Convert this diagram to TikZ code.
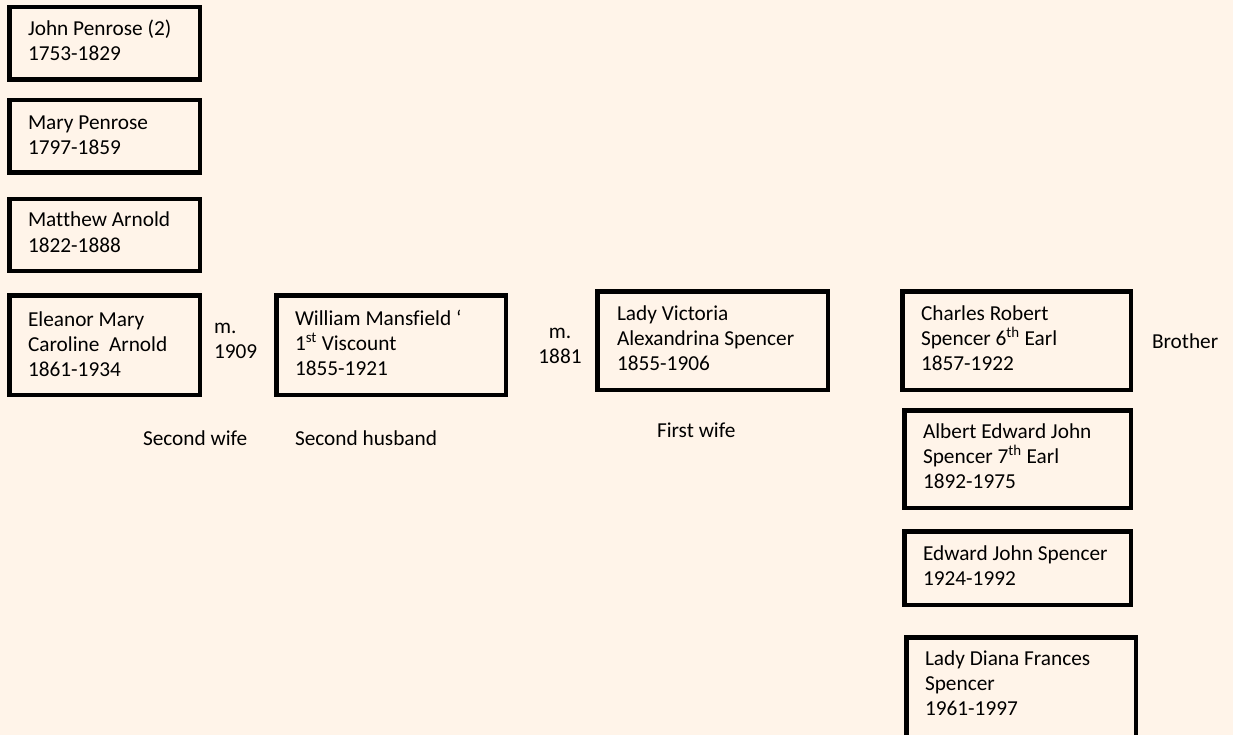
\documentclass[tikz,border=0pt]{standalone}
\usepackage{fontspec}
\setmainfont{Carlito}[Ligatures=NoCommon]
\definecolor{bgpeach}{RGB}{255,244,233}
\tikzset{
  pbox/.style={draw=black, line width=4.5pt, inner sep=0pt, outer sep=0pt},
  ptext/.style={inner sep=0pt, outer sep=0pt, align=left, font=\fontsize{21.3}{25}\selectfont},
  plabel/.style={inner sep=0pt, outer sep=0pt, font=\fontsize{21.3}{25}\selectfont}
}
% name, x1, y1, x2, y2 (outer edges), text x, baseline y of last line, text
\newcommand\personbox[9]{%
  \node[pbox, anchor=north west, minimum width={(#4)-(#2)-4.5}, minimum height={(#5)-(#3)-4.5}]
    (#1) at ({#2+2.25},{#3+2.25}) {};
  \node[ptext, anchor=base west] (#1t) at (#7,#8) {#9};
}
\begin{document}
\begin{tikzpicture}[x=1pt,y=-1pt]
\fill[bgpeach] (0,0) rectangle (1233,735);
\useasboundingbox (0,0) rectangle (1233,735);
\begin{scope}
\clip (0,0) rectangle (1233,735);
\personbox{jp}{7}{5}{202}{82}{}{28}{61}{John Penrose (2)\\1753-1829}
\personbox{mp}{7}{98}{202}{175}{}{28}{155}{Mary Penrose\\1797-1859}
\personbox{ma}{7}{197}{202}{273}{}{28}{252}{Matthew Arnold\\1822-1888}
\personbox{el}{7}{293}{202}{397}{}{28}{376}{Eleanor Mary\\Caroline\ \ Arnold\\1861-1934}
\personbox{wm}{274}{293}{508}{397}{}{295}{375}{William Mansfield ‘\\1\textsuperscript{st} Viscount\\1855-1921}
\personbox{lv}{595}{289}{830}{392}{}{617}{370}{Lady Victoria\\Alexandrina Spencer\\1855-1906}
\personbox{cs}{900}{289}{1133}{392}{}{921}{370}{Charles Robert\\Spencer 6\textsuperscript{th} Earl\\1857-1922}
\personbox{ae}{902}{408}{1133}{510}{}{923}{488}{Albert Edward John\\Spencer 7\textsuperscript{th} Earl\\1892-1975}
\personbox{ej}{902}{529}{1133}{607}{}{923}{585}{Edward John Spencer\\1924-1992}
\personbox{di}{904}{635}{1138}{739}{}{925}{715}{Lady Diana Frances\\Spencer\\1961-1997}
\end{scope}
\node[ptext, anchor=base west] (m1) at (214,358) {m.\\1909};
\node[ptext, anchor=base, align=center] (m2) at (560,363) {m.\\1881};
\node[plabel, anchor=base west] (sw) at (143,445) {Second wife};
\node[plabel, anchor=base west] (sh) at (295,445) {Second husband};
\node[plabel, anchor=base west] (fw) at (657,437) {First wife};
\node[plabel, anchor=base west] (br) at (1152,348) {Brother};
\end{tikzpicture}
\end{document}
